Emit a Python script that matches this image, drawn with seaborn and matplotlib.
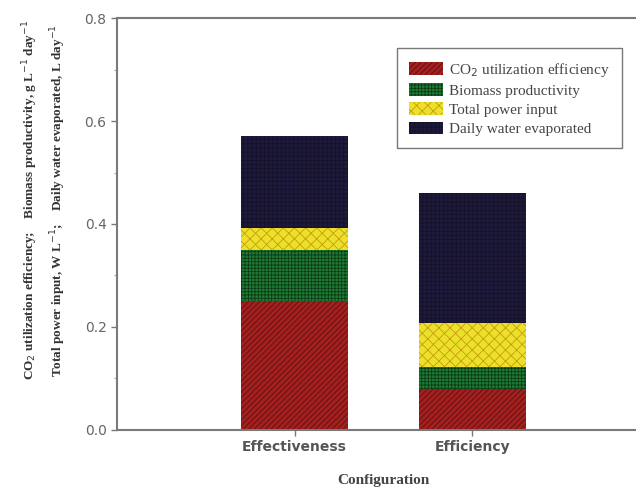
import pandas as pd
import numpy as np
import matplotlib.pyplot as plt
from matplotlib.patches import Patch
from matplotlib.ticker import MultipleLocator
import seaborn as sns

sns.set_theme(style="white")
plt.rcParams['hatch.linewidth'] = 0.6

configs = ["Effectiveness", "Efficiency"]
series = ["CO$_2$ utilization efficiency", "Biomass productivity",
          "Total power input", "Daily water evaporated"]
co2_eff = [0.25, 0.08]
biomass = [0.10, 0.043]
power = [0.042, 0.085]
water = [0.178, 0.252]
yticks = [0.0, 0.2, 0.4, 0.6, 0.8]

colors = ["#a3201f", "#1e7b34", "#ece12a", "#1e1a3c"]
hatch_cols = ["#5a1010", "#0d3a16", "#c89b10", "#141128"]
hatches = ["//////", "+++++", "xxx", "++++"]

df = pd.DataFrame({"Configuration": configs, "co2": co2_eff, "bio": biomass,
                   "pow": power, "wat": water})
cum = df[["co2", "bio", "pow", "wat"]].cumsum(axis=1)
cum["Configuration"] = df["Configuration"]

fig = plt.figure(figsize=(6.36, 4.88), dpi=100)
ax = fig.add_axes([0.184, 0.119, 0.838, 0.844])

# draw from the top of the stack down so each layer covers the one above
for col, c, hc, h in reversed(list(zip(["co2", "bio", "pow", "wat"], colors, hatch_cols, hatches))):
    sns.barplot(data=cum, x="Configuration", y=col, color=c, width=0.6,
                saturation=1, ax=ax, edgecolor=hc, linewidth=0, hatch=h)

ax.set_yticks(yticks)
ax.set_yticklabels([f"{v:.1f}" for v in yticks])
ax.yaxis.set_minor_locator(MultipleLocator(0.1))
ax.set_xlim(-1, 2)
ax.set_ylim(0, 0.8)
ax.tick_params(axis="y", which="major", direction="out", length=4, width=1,
               color="#777777", labelcolor="#666666", labelsize=10, left=True)
ax.tick_params(axis="y", which="minor", direction="out", length=2, width=0.8,
               color="#aaaaaa", left=True)
ax.tick_params(axis="x", direction="out", length=4, width=1, color="#777777",
               labelcolor="#555555", labelsize=10, bottom=True)
for lab in ax.get_xticklabels():
    lab.set_fontweight("bold")
for s in ax.spines.values():
    s.set_color("#7a7a7a")
    s.set_linewidth(1.5)

ax.set_xlabel("Configuration", family="Liberation Serif", fontweight="bold",
              fontsize=11, color="#444444", labelpad=14)
ax.set_ylabel("")
fig.text(0.047, 0.59, "CO$_2$ utilization efficiency;    Biomass productivity, g L$^{-1}$ day$^{-1}$",
         rotation=90, ha="center", va="center", family="Liberation Serif",
         fontsize=9.5, color="#333333", fontweight="bold")
fig.text(0.091, 0.59, "Total power input, W L$^{-1}$;    Daily water evaporated, L day$^{-1}$",
         rotation=90, ha="center", va="center", family="Liberation Serif",
         fontsize=9.5, color="#333333", fontweight="bold")

handles = [Patch(facecolor=c, edgecolor=hc, hatch=h, linewidth=0)
           for c, hc, h in zip(colors, hatch_cols, hatches)]
leg = ax.legend(handles, series, loc="upper right", bbox_to_anchor=(0.962, 0.945),
                prop={"family": "Liberation Serif", "size": 11}, frameon=True,
                fancybox=False, edgecolor="#555555", handlelength=2.2,
                handleheight=0.9, borderpad=0.8, labelspacing=0.3, handletextpad=0.4)
leg.get_frame().set_linewidth(1)
for t in leg.get_texts():
    t.set_color("#444444")

fig.savefig("out.png", dpi=100)
